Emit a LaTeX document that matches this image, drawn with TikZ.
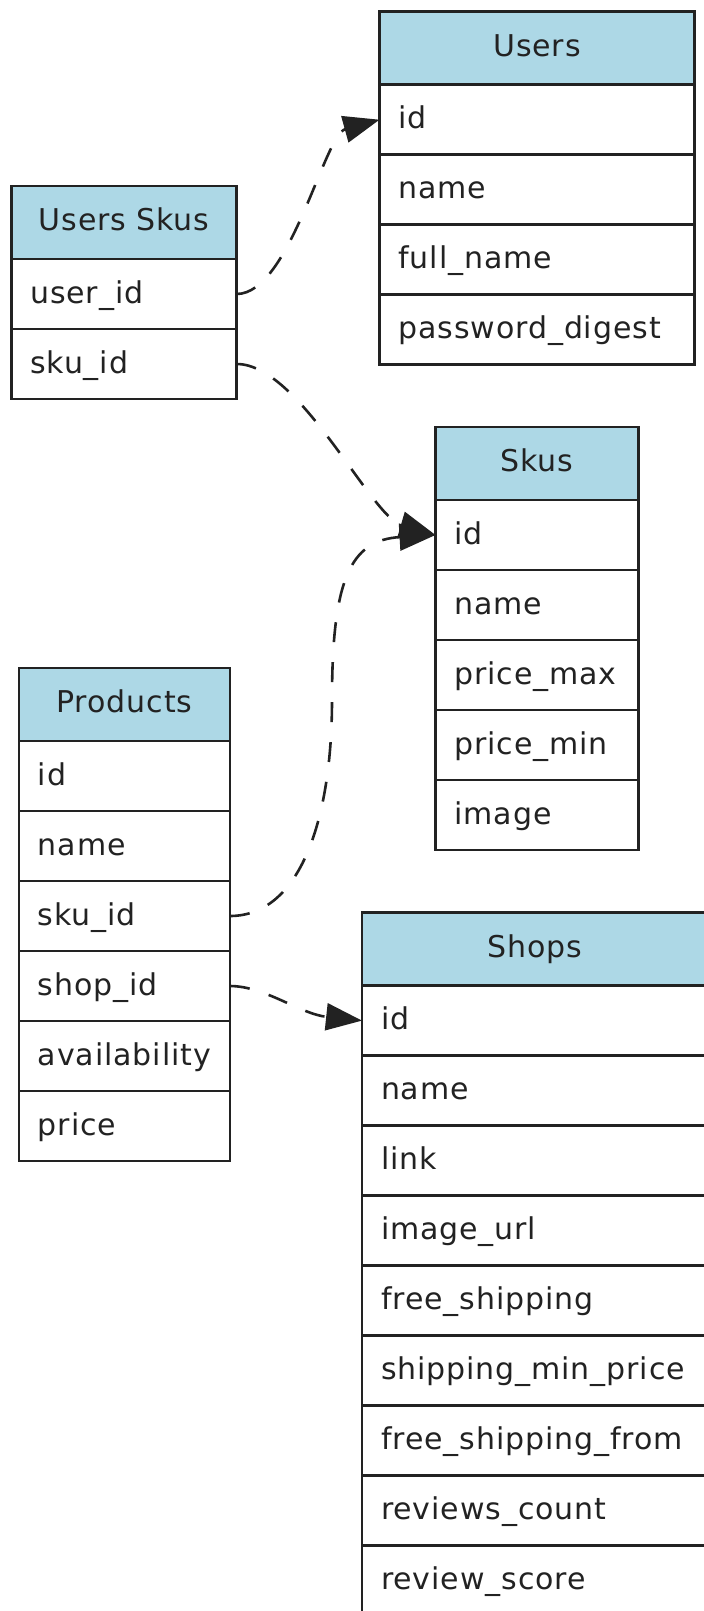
\documentclass[tikz,border=0pt]{standalone}
\usepackage{fontspec}
\setmainfont[LetterSpace=3]{DejaVu Sans}
\usetikzlibrary{arrows.meta}
\definecolor{hdrblue}{HTML}{ADD8E6}
\definecolor{ink}{HTML}{222222}
\tikzset{
  cell/.style={draw=ink, line width=1.3pt, inner xsep=9.5pt, inner ysep=0pt, outer sep=0pt,
    text depth=0pt, font=\fontsize{15}{18}\selectfont, text=ink, anchor=north west},
  fld/.style={cell, fill=white, minimum height=35pt, align=left, text height=9pt},
  hdr/.style={cell, fill=hdrblue, minimum height=36.5pt, align=center, text height=8pt},
  fk/.style={draw=ink, line width=1.3pt, dash pattern=on 10pt off 10pt,
    -{Triangle[length=18pt,width=13.5pt]}}
}
\newcommand\erdtable[5]{%
  \node[hdr, text width=#3, alias=#1-0] (#1) at #2 {#4};
  \foreach \fname [count=\i, remember=\i as \j (initially 0)] in {#5}{%
    \node[fld, text width=#3] (#1-\i) at (#1-\j.south west) {\fname};
  }%
}
\begin{document}
\begin{tikzpicture}[x=0.5pt, y=-0.5pt]
\useasboundingbox (0,0) rectangle (704,1611);
\clip (0,0) rectangle (704,1611);
\erdtable{users}{(379.5,11.7)}{138.5pt}{Users}{id,name,full\_name,password\_digest}
\erdtable{us}{(11.2,186)}{93.7pt}{Users Skus}{user\_id,sku\_id}
\erdtable{skus}{(435.5,427)}{82.4pt}{Skus}{id,name,price\_max,price\_min,image}
\erdtable{prod}{(18.9,668)}{86.5pt}{Products}{id,name,sku\_id,shop\_id,availability,price}
\erdtable{shops}{(362,912.6)}{154pt}{Shops}{id,name,link,image\_url,free\_shipping,shipping\_min\_price,free\_shipping\_from,reviews\_count,review\_score}
\draw[fk] (us-1.east) .. controls (290,294) and (324,135) .. (users-1.west);
\draw[fk] (us-2.east) .. controls (300,364) and (370,516) .. (skus-1.west);
\draw[fk] (prod-3.east) .. controls (300,916) and (332,820) .. (332,700)
  .. controls (332,580) and (350,540) .. (skus-1.west);
\draw[fk] (prod-4.east) .. controls (265,986) and (300,1014) .. (shops-1.west);
\end{tikzpicture}
\end{document}
